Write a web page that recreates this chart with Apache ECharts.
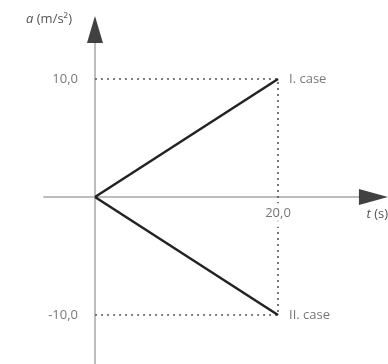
<!DOCTYPE html>
<html>
<head>
<meta charset="utf-8">
<script src="https://cdn.jsdelivr.net/npm/echarts@6/dist/echarts.min.js"></script>
<style>
    html, body { margin: 0; padding: 0; background: #fff; }
    #accelChart { width: 388px; height: 364px; }
</style>
</head>
<body>
<div id="accelChart"></div>
<script>
// data
const caseTimes = [0, 20];
const caseOneAccel = [0, 10];
const caseTwoAccel = [0, -10];
const caseNames = ['I. case', 'II. case'];
const xTickValues = [20];
const yTickValues = [-10, 10];

// axis ranges (the arrows sit just past the ends)
const xMin = -5.57, xMax = 28.85, xArrowAt = 30.43;
const yMin = -14.15, yMax = 13.05, yArrowAt = 14.19;

const textColor = '#555';
const fontFamily = 'Open Sans';

function toPairs(xs, ys) {
    return xs.map((x, i) => [x, ys[i]]);
}

function fmt(v) {
    return v.toFixed(1).replace('.', ',');
}

// dotted guides: across at +10, down at t=20, back at -10
const guidePath = [
    [caseTimes[0], caseOneAccel[1]],
    [caseTimes[1], caseOneAccel[1]],
    [caseTimes[1], caseTwoAccel[1]],
    [caseTimes[0], caseTwoAccel[1]]
];

const labelStyle = {
    color: textColor,
    fontFamily: fontFamily,
    fontSize: 13
};

// tick labels sit next to the zero lines, case names next to the line ends
function getLabelPoints() {
    let points = [];
    xTickValues.forEach((v) => {
        points.push({
            value: [v, 0],
            label: {
                position: 'bottom',
                distance: 6,
                formatter: fmt(v),
                backgroundColor: '#ffffff',
                padding: [4, 3, 7, 3]
            }
        });
    });
    yTickValues.forEach((v) => {
        points.push({
            value: [0, v],
            label: { position: 'left', distance: 17, formatter: fmt(v) }
        });
    });
    const ends = [caseOneAccel, caseTwoAccel];
    ends.forEach((arr, i) => {
        points.push({
            value: [caseTimes[caseTimes.length - 1], arr[arr.length - 1]],
            label: { position: 'right', distance: 11, formatter: caseNames[i] }
        });
    });
    return points;
}

const myChart = echarts.init(document.getElementById('accelChart'));
myChart.setOption({
    animation: false,
    textStyle: { fontFamily: fontFamily },
    grid: {
        left: 44,
        right: 29,
        top: 43,
        bottom: 0,
        containLabel: false,
        outerBoundsMode: 'none'
    },
    xAxis: {
        type: 'value',
        min: xMin,
        max: xMax,
        name: '{i|t} (s)',
        nameLocation: 'end',
        nameGap: 29,
        nameTextStyle: Object.assign({}, labelStyle, {
            align: 'right',
            verticalAlign: 'top',
            padding: [11, 0, 0, 0],
            rich: { i: Object.assign({ fontStyle: 'italic' }, labelStyle) }
        }),
        axisLine: {
            onZero: true,
            lineStyle: { color: '#bdbdbd', width: 2 }
        },
        axisTick: { show: false },
        splitLine: { show: false },
        axisLabel: { show: false }
    },
    yAxis: {
        type: 'value',
        min: yMin,
        max: yMax,
        name: '{i|a} (m/s²)',
        nameLocation: 'end',
        nameGap: 24,
        nameTextStyle: Object.assign({}, labelStyle, {
            align: 'right',
            verticalAlign: 'middle',
            padding: [0, 23, 0, 0],
            rich: { i: Object.assign({ fontStyle: 'italic' }, labelStyle) }
        }),
        axisLine: {
            onZero: true,
            lineStyle: { color: '#bdbdbd', width: 2 }
        },
        axisTick: { show: false },
        splitLine: { show: false },
        axisLabel: { show: false }
    },
    series: [
        {
            name: 'guides',
            type: 'line',
            data: guidePath,
            symbol: 'none',
            silent: true,
            lineStyle: { color: '#555', width: 1.6, type: [2, 4] },
            z: 1
        },
        {
            name: caseNames[0],
            type: 'line',
            data: toPairs(caseTimes, caseOneAccel),
            symbol: 'none',
            lineStyle: { color: '#222', width: 2.5 },
            z: 3
        },
        {
            name: caseNames[1],
            type: 'line',
            data: toPairs(caseTimes, caseTwoAccel),
            symbol: 'none',
            lineStyle: { color: '#222', width: 2.5 },
            z: 3
        },
        {
            name: 'labels',
            type: 'scatter',
            clip: false,
            silent: true,
            symbolSize: 0,
            itemStyle: { color: 'transparent' },
            label: Object.assign({ show: true }, labelStyle),
            data: getLabelPoints(),
            z: 4
        },
        {
            // axis arrow heads
            name: 'arrows',
            type: 'scatter',
            clip: false,
            silent: true,
            symbol: 'triangle',
            itemStyle: { color: '#111' },
            data: [
                { value: [xArrowAt, 0], symbolSize: [16, 29], symbolRotate: -90 },
                { value: [0, yArrowAt], symbolSize: [16, 27], symbolRotate: 0 }
            ],
            z: 5
        }
    ]
});
</script>
</body>
</html>
